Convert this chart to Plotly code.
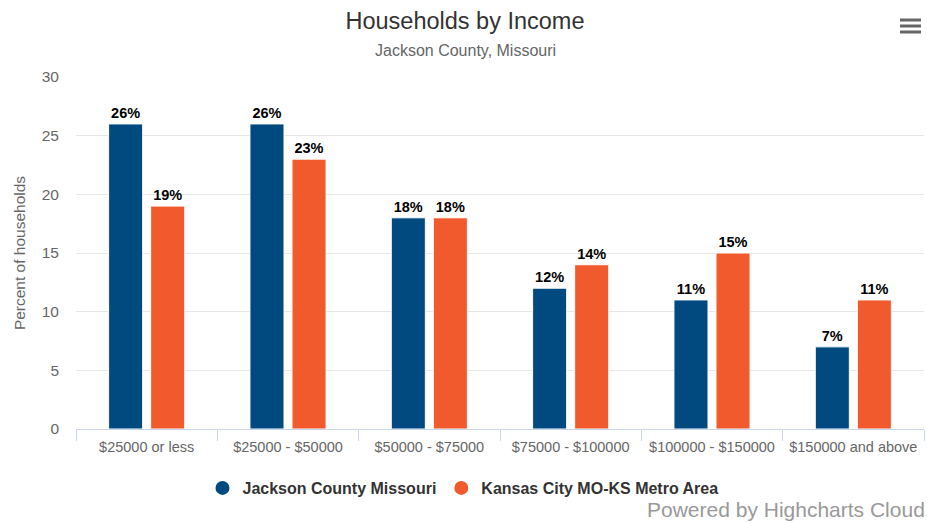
import plotly.graph_objects as go

categories = ["$25000 or less", "$25000 - $50000", "$50000 - $75000",
              "$75000 - $100000", "$100000 - $150000", "$150000 and above"]
jackson = [26, 26, 18, 12, 11, 7]
metro = [19, 23, 18, 14, 15, 11]
series_names = ["Jackson County Missouri", "Kansas City MO-KS Metro Area"]
colors = ["#004a80", "#f15a2c"]

L, T, W, H = 76, 77, 848, 352


def px(x):
    return (x - L) / W


def py(y):
    return (T + H - y) / H


fig = go.Figure()
for name, vals, col in zip(series_names, [jackson, metro], colors):
    fig.add_trace(go.Bar(
        x=categories, y=vals, name=name, showlegend=False,
        marker=dict(color=col, line=dict(color="white", width=1)),
        texttemplate="%{y}%", textposition="outside", cliponaxis=False,
        textfont=dict(family="Liberation Sans, Arial", size=14.5, color="black", weight="bold"),
        hoverinfo="x+y",
    ))
    fig.add_trace(go.Scatter(
        x=[None], y=[None], mode="markers", name=name,
        marker=dict(color=col, size=14, symbol="circle"),
    ))

fig.update_layout(
    width=927, height=522,
    margin=dict(l=L, r=927 - L - W, t=T, b=522 - T - H, autoexpand=False),
    paper_bgcolor="white", plot_bgcolor="white",
    font=dict(family="Liberation Sans, Arial", color="#666666"),
    barmode="group", bargap=0.405, bargroupgap=0.19,
    title=dict(text="Households by Income", x=px(465), xref="paper", xanchor="center",
               y=1 - 21 / 522, yref="container", yanchor="middle",
               font=dict(size=23.5, color="#333333")),
    showlegend=True,
    legend=dict(orientation="h", x=px(463), xanchor="center",
                y=py(488), yanchor="middle",
                font=dict(size=16, color="#333333", weight="bold"),
                itemsizing="trace", tracegroupgap=0),
    annotations=[
        dict(text="Jackson County, Missouri", xref="paper", yref="paper",
             x=px(465), y=py(50), xanchor="center", yanchor="middle",
             showarrow=False, font=dict(size=16, color="#666666")),
        dict(text="Powered by Highcharts Cloud", xref="paper", yref="paper",
             x=px(927), y=py(510), xanchor="right", yanchor="middle",
             showarrow=False, font=dict(size=21, color="#999999")),
    ],
    shapes=[
        dict(type="line", xref="paper", yref="paper", x0=px(900), x1=px(921),
             y0=py(y), y1=py(y), line=dict(color="#666666", width=3))
        for y in (20, 26, 32)
    ],
    yaxis=dict(range=[0, 30], dtick=5, showgrid=True, gridcolor="#e6e6e6", gridwidth=1,
               zeroline=False, showline=False, automargin=False,
               tickfont=dict(size=15.5, color="#666666"), ticklabelstandoff=16,
               title=dict(text="Percent of households", font=dict(size=15.5, color="#666666"),
                          standoff=12)),
    xaxis=dict(type="category", showline=True, linecolor="#ccd6eb", linewidth=1,
               ticks="outside", tickson="boundaries", ticklen=11, tickcolor="#ccd6eb",
               automargin=False, ticklabelstandoff=5,
               tickfont=dict(size=14.5, color="#666666"), showgrid=False),
)

fig.write_html("out.html", config={"displayModeBar": False},
               post_script="document.body.style.margin='0';")
